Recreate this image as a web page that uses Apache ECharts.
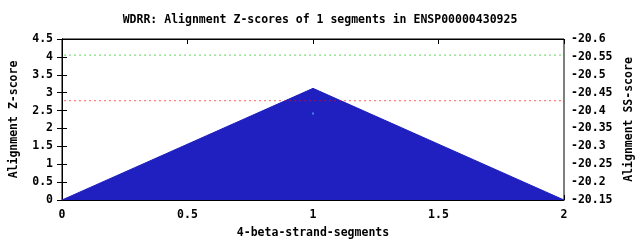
<!DOCTYPE html>
<html><head><meta charset="utf-8">
<script src="https://cdn.jsdelivr.net/npm/echarts@6/dist/echarts.min.js"></script>
<style>html,body{margin:0;padding:0;background:#fff}#c{width:640px;height:240px}</style>
</head><body><div id="c"></div>
<script>
const titleText = "WDRR: Alignment Z-scores of 1 segments in ENSP00000430925";
const xValues = [0, 1, 2];
const zScores = [0, 3.12, 0];
const ssPointX = [1];
const ssPointY = [-20.392];
const greenLine = 4.05;
const redLine = 2.78;
const xTicks = {min: 0, max: 2, interval: 0.5};
const leftTicks = {min: 0, max: 4.5, interval: 0.5};
const rightTicks = {min: -20.6, max: -20.15, interval: 0.05};

const FONT = "DejaVu Sans Mono";
const fmt = v => String(+(+v).toFixed(2));
const tickStyle = {inside: true, length: 5, lineStyle: {color: '#000'}};
const txt = {fontFamily: FONT, fontSize: 11.5, fontWeight: 'bold', color: '#000'};
const chart = echarts.init(document.getElementById('c'), null, {renderer: 'canvas'});
const hline = (v, color) => ({
  type: 'line', xAxisIndex: 0, yAxisIndex: 0, silent: true, z: 5,
  data: [[xTicks.min + 0.01, v], [xTicks.max - 0.01, v]],
  showSymbol: false, symbol: 'none',
  lineStyle: {color: color, width: 1.3, type: [1, 4], cap: 'butt'}
});
chart.setOption({
  animation: false,
  backgroundColor: '#fff',
  title: {text: titleText, left: 'center', top: 9, textStyle: {fontFamily: FONT, fontSize: 11.5, fontWeight: 'bold', color: '#000'}},
  grid: {left: 62, right: 76, top: 39, bottom: 40, containLabel: false, outerBoundsMode: 'none',
    show: true, borderColor: '#000', borderWidth: 1, backgroundColor: 'transparent'},
  xAxis: [{
    type: 'value', min: xTicks.min, max: xTicks.max, interval: xTicks.interval,
    name: '4-beta-strand-segments', nameLocation: 'middle', nameGap: 27,
    nameTextStyle: txt,
    axisLine: {lineStyle: {color: '#000'}}, axisTick: tickStyle, splitLine: {show: false},
    axisLabel: Object.assign({margin: 9, formatter: fmt}, txt)
  }, {
    type: 'value', position: 'top', min: xTicks.min, max: xTicks.max, interval: xTicks.interval,
    axisLine: {lineStyle: {color: '#000'}}, axisTick: tickStyle, axisLabel: {show: false}, splitLine: {show: false}
  }],
  yAxis: [{
    type: 'value', min: leftTicks.min, max: leftTicks.max, interval: leftTicks.interval,
    name: 'Alignment Z-score', nameLocation: 'middle', nameGap: 42, nameRotate: 90,
    nameTextStyle: txt,
    axisLine: {show: true, lineStyle: {color: '#000'}}, axisTick: tickStyle, splitLine: {show: false},
    axisLabel: Object.assign({margin: 9, formatter: fmt}, txt)
  }, {
    type: 'value', position: 'right', inverse: true, min: rightTicks.min, max: rightTicks.max, interval: rightTicks.interval,
    name: 'Alignment SS-score', nameLocation: 'middle', nameGap: 55, nameRotate: 90,
    nameTextStyle: txt,
    axisLine: {show: true, lineStyle: {color: '#000'}}, axisTick: tickStyle, splitLine: {show: false},
    axisLabel: Object.assign({margin: 7, formatter: fmt}, txt)
  }],
  series: [{
    type: 'line', xAxisIndex: 0, yAxisIndex: 0,
    data: xValues.map((x, i) => [x, zScores[i]]),
    showSymbol: false, lineStyle: {color: '#2020c0', width: 1}, areaStyle: {color: '#2020c0', opacity: 1},
    z: 2
  },
  hline(greenLine, '#00c000'),
  hline(redLine, '#ff0000'),
  {
    type: 'scatter', xAxisIndex: 0, yAxisIndex: 1,
    data: ssPointX.map((x, i) => [x, ssPointY[i]]),
    symbol: 'rect', symbolSize: 2, itemStyle: {color: '#40a0ff'}, z: 6
  }]
});
</script></body></html>
